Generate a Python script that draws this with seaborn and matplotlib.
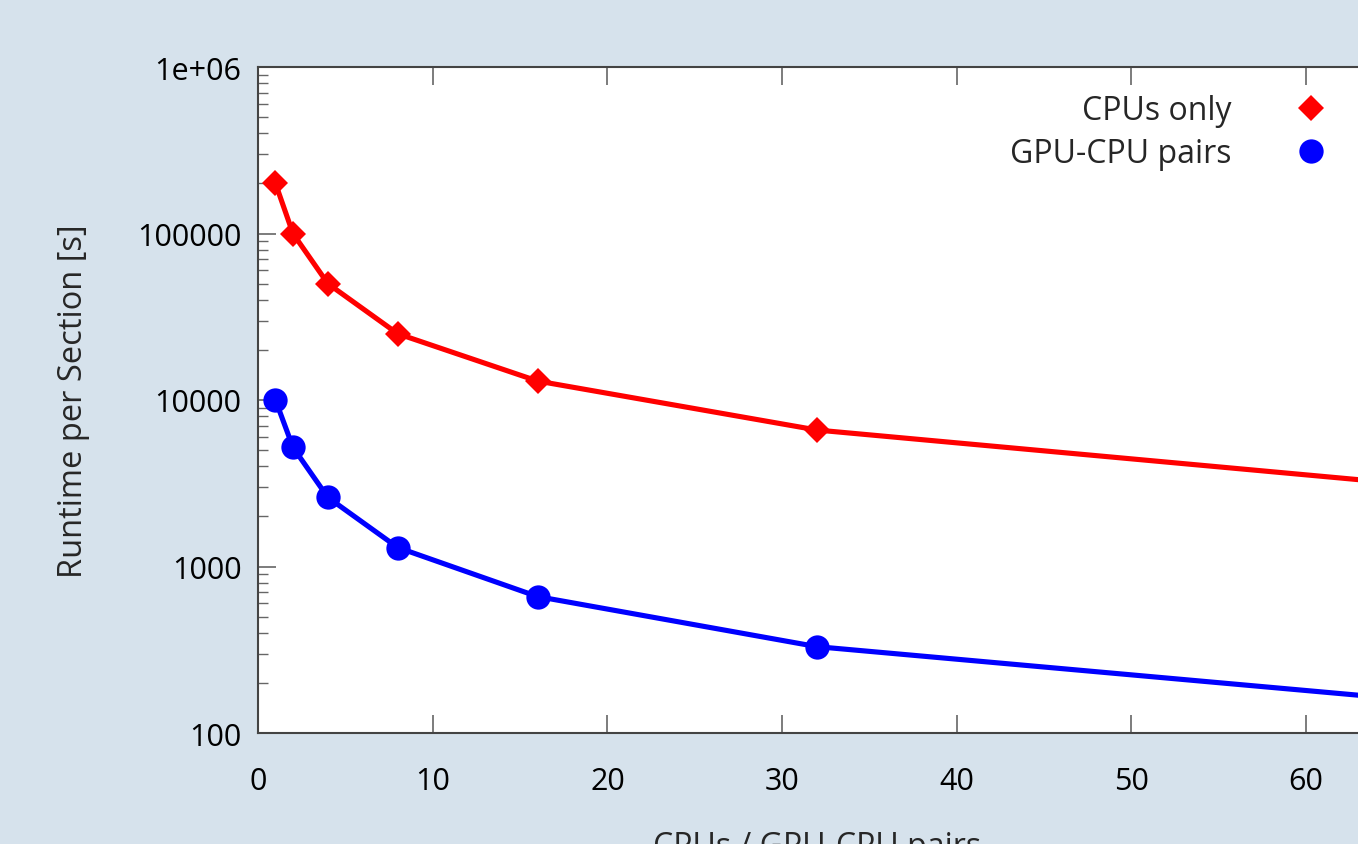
import numpy as np
import pandas as pd
import matplotlib
matplotlib.use("Agg")
import matplotlib.pyplot as plt
from matplotlib.lines import Line2D
from matplotlib.ticker import LogLocator, FixedLocator, NullFormatter, FuncFormatter
import seaborn as sns

# ---- data ----
units = [1, 2, 4, 8, 16, 32, 64]
cpu_only = [200000, 100000, 50000, 25000, 13000, 6600, 3250]
gpu_cpu = [10000, 5200, 2600, 1300, 660, 330, 165]
series_names = ["CPUs only", "GPU-CPU pairs"]
y_tick_labels = {100: "100", 1000: "1000", 10000: "10000", 100000: "100000", 1000000: "1e+06"}

df = pd.DataFrame({
    "units": units * 2,
    "runtime": cpu_only + gpu_cpu,
    "series": [series_names[0]] * len(units) + [series_names[1]] * len(units),
})

sns.set_style("ticks")
plt.rcParams["font.family"] = ["Open Sans", "DejaVu Sans"]

bg = "#d6e2ec"
fig = plt.figure(figsize=(13.58, 8.45), dpi=100, facecolor=bg)
W, H = 1358, 845
left, right, top, bottom = 258, 1376, 68, 734
ax = fig.add_axes([left / W, 1 - bottom / H, (right - left) / W, (bottom - top) / H])
ax.set_facecolor("white")

palette = {series_names[0]: "#ff0000", series_names[1]: "#0000ff"}
markers = {series_names[0]: "D", series_names[1]: "o"}
msizes = {series_names[0]: 13.5, series_names[1]: 17.5}
for name in series_names:
    sub = df[df["series"] == name]
    sns.lineplot(data=sub, x="units", y="runtime", ax=ax, color=palette[name],
                 marker=markers[name], markersize=msizes[name],
                 markeredgewidth=0, linewidth=3.7, legend=False)

ax.set_yscale("log")
ax.set_xlim(0, 64)
ax.set_ylim(100, 1e6)

ax.xaxis.set_major_locator(FixedLocator([0, 10, 20, 30, 40, 50, 60]))
ax.yaxis.set_major_locator(FixedLocator(list(y_tick_labels.keys())))
ax.yaxis.set_major_formatter(FuncFormatter(lambda v, p: y_tick_labels.get(int(round(v)), "")))
ax.yaxis.set_minor_locator(LogLocator(base=10, subs=np.arange(2, 10)))
ax.yaxis.set_minor_formatter(NullFormatter())

ax.tick_params(axis="both", which="major", direction="in", length=13, width=1.2,
               color="#666666", labelsize=22, labelcolor="black", top=True, right=True)
ax.tick_params(axis="x", which="major", pad=24)
ax.tick_params(axis="y", which="major", pad=12)
ax.tick_params(axis="y", which="minor", direction="in", length=7, width=1.0,
               color="#666666", right=True)

for s in ax.spines.values():
    s.set_color("#444444")
    s.set_linewidth(1.5)

ax.set_xlabel("CPUs / GPU-CPU pairs", fontsize=23, labelpad=24)
ax.set_ylabel("Runtime per Section [s]", fontsize=23.5, labelpad=34)

handles = [
    Line2D([], [], color=palette[series_names[0]], marker="D", linestyle="none", markersize=13.5, markeredgewidth=0),
    Line2D([], [], color=palette[series_names[1]], marker="o", linestyle="none", markersize=17.5, markeredgewidth=0),
]
ax.legend(handles, series_names, loc="upper right", frameon=False, markerfirst=False,
          fontsize=23, handletextpad=1.5, labelspacing=0.32, borderaxespad=0.45,
          bbox_to_anchor=(1.0 - 6 / (right - left), 1.0))

fig.savefig("out.png", dpi=100, facecolor=bg)
